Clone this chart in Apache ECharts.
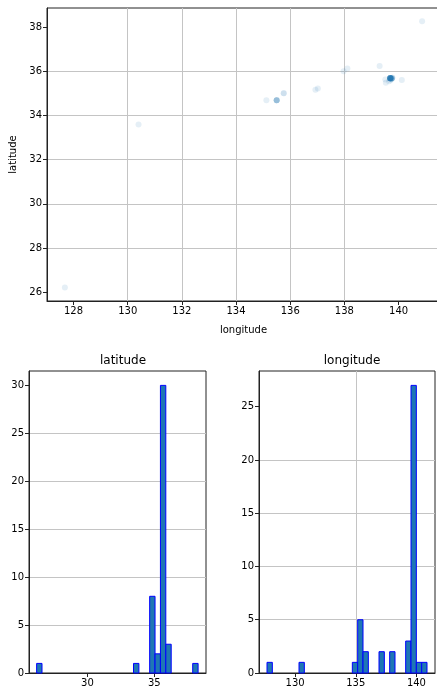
<!DOCTYPE html>
<html style="height: 100%">
<head>
  <meta charset="utf-8">
</head>
<body style="height: 100%; margin: 0; background: #fff;">
  <div id="container" style="width: 437px; height: 692px;"></div>
  <script src="https://cdn.jsdelivr.net/npm/echarts@6/dist/echarts.min.js"></script>
  <script>
    // scatter points (longitude, latitude)
    var lonValues = [
      127.68, 130.40, 135.12, 135.50, 135.50, 135.50, 135.50, 135.50, 135.76, 135.76,
      136.93, 137.02, 137.97, 138.11, 139.30, 139.51, 139.53, 140.12, 140.87,
      139.65, 139.70, 139.73,
      139.69, 139.69, 139.69, 139.69, 139.69, 139.69, 139.69, 139.69, 139.69, 139.69, 139.69,
      139.70, 139.70, 139.70, 139.70, 139.70,
      139.75, 139.75, 139.75, 139.75,
      139.77, 139.77, 139.72, 139.72
    ];
    var latValues = [
      26.21, 33.59, 34.69, 34.69, 34.69, 34.69, 34.69, 34.69, 35.01, 35.01,
      35.17, 35.22, 36.00, 36.13, 36.24, 35.63, 35.48, 35.61, 38.27,
      35.55, 35.60, 35.66,
      35.69, 35.69, 35.69, 35.69, 35.69, 35.69, 35.69, 35.69, 35.69, 35.69, 35.69,
      35.70, 35.70, 35.70, 35.70, 35.70,
      35.68, 35.68, 35.68, 35.68,
      35.71, 35.71, 35.67, 35.67
    ];

    // histogram bins (30 bins each), non-empty bins only
    var latBinStart = 26.21, latBinWidth = 0.402;
    var latBinIndex = [0, 18, 21, 22, 23, 24, 29];
    var latBinCount = [1, 1, 8, 2, 30, 3, 1];

    var lonBinStart = 127.68, lonBinWidth = 0.4397;
    var lonBinIndex = [0, 6, 16, 17, 18, 21, 23, 26, 27, 28, 29];
    var lonBinCount = [1, 1, 1, 5, 2, 2, 2, 3, 27, 1, 1];

    // tick labels
    var scatterLonTicks = [128, 130, 132, 134, 136, 138, 140];
    var scatterLatTicks = [26, 28, 30, 32, 34, 36, 38];
    var latHistXTicks = [30, 35];
    var latHistYTicks = [0, 5, 10, 15, 20, 25, 30];
    var lonHistXTicks = [130, 135, 140];
    var lonHistYTicks = [0, 5, 10, 15, 20, 25];

    var points = lonValues.map(function (v, i) { return [v, latValues[i]]; });
    function binData(start, width, idx, counts) {
      return idx.map(function (k, i) {
        return [start + k * width, start + (k + 1) * width, counts[i]];
      });
    }

    var font = 'DejaVu Sans';
    var gridColor = '#c4c4c4';
    var spine = '#222';

    function valueAxis(gridIndex, min, max, ticks, extra) {
      var ax = {
        type: 'value', gridIndex: gridIndex, min: min, max: max,
        axisLine: { show: true, onZero: false, lineStyle: { color: spine, width: 1 } },
        axisTick: { show: true, length: 4, customValues: ticks, lineStyle: { color: spine, width: 1 } },
        axisLabel: { customValues: ticks, color: '#000', fontFamily: font, fontSize: 10, margin: 5 },
        splitLine: { show: true, showMinLine: false, showMaxLine: false, lineStyle: { color: gridColor, width: 1 } }
      };
      for (var key in extra) ax[key] = extra[key];
      return ax;
    }

    function renderBar(params, api) {
      var p0 = api.coord([api.value(0), api.value(2)]);
      var p1 = api.coord([api.value(1), 0]);
      return {
        type: 'rect',
        shape: { x: p0[0], y: p0[1], width: p1[0] - p0[0], height: p1[1] - p0[1] },
        style: { fill: '#1f77b4', stroke: '#0000ff', lineWidth: 1 }
      };
    }

    var dom = document.getElementById('container');
    var myChart = echarts.init(dom, null, { renderer: 'canvas' });

    var option = {
      animation: false,
      backgroundColor: '#fff',
      title: [
        { text: 'latitude', left: 118, top: 350, textAlign: 'center',
          textStyle: { fontFamily: font, fontSize: 12, fontWeight: 'normal', color: '#000' } },
        { text: 'longitude', left: 347, top: 350, textAlign: 'center',
          textStyle: { fontFamily: font, fontSize: 12, fontWeight: 'normal', color: '#000' } }
      ],
      grid: [
        { left: 47, top: 8, width: 393, height: 293, outerBoundsMode: 'none',
          show: true, borderColor: spine, borderWidth: 1 },
        { left: 29, top: 371, width: 177, height: 302, outerBoundsMode: 'none',
          show: true, borderColor: spine, borderWidth: 1 },
        { left: 259, top: 371, width: 176, height: 302, outerBoundsMode: 'none',
          show: true, borderColor: spine, borderWidth: 1 }
      ],
      xAxis: [
        valueAxis(0, 127.02, 141.53, scatterLonTicks, {
          name: 'longitude', nameLocation: 'middle', nameGap: 24,
          nameTextStyle: { fontFamily: font, fontSize: 10, color: '#000' }
        }),
        valueAxis(1, 25.64, 38.86, latHistXTicks, {}),
        valueAxis(2, 127.02, 141.53, lonHistXTicks, {})
      ],
      yAxis: [
        valueAxis(0, 25.6, 38.87, scatterLatTicks, {
          name: 'latitude', nameLocation: 'middle', nameGap: 25,
          nameTextStyle: { fontFamily: font, fontSize: 10, color: '#000' }
        }),
        valueAxis(1, 0, 31.5, latHistYTicks, {}),
        valueAxis(2, 0, 28.35, lonHistYTicks, {})
      ],
      series: [
        {
          type: 'scatter', xAxisIndex: 0, yAxisIndex: 0,
          data: points, symbolSize: 6,
          itemStyle: { color: 'rgba(31,119,180,0.15)' }
        },
        {
          type: 'custom', xAxisIndex: 1, yAxisIndex: 1,
          data: binData(latBinStart, latBinWidth, latBinIndex, latBinCount),
          renderItem: renderBar
        },
        {
          type: 'custom', xAxisIndex: 2, yAxisIndex: 2,
          data: binData(lonBinStart, lonBinWidth, lonBinIndex, lonBinCount),
          renderItem: renderBar
        }
      ]
    };

    myChart.setOption(option);
    window.addEventListener('resize', myChart.resize);
  </script>
</body>
</html>
